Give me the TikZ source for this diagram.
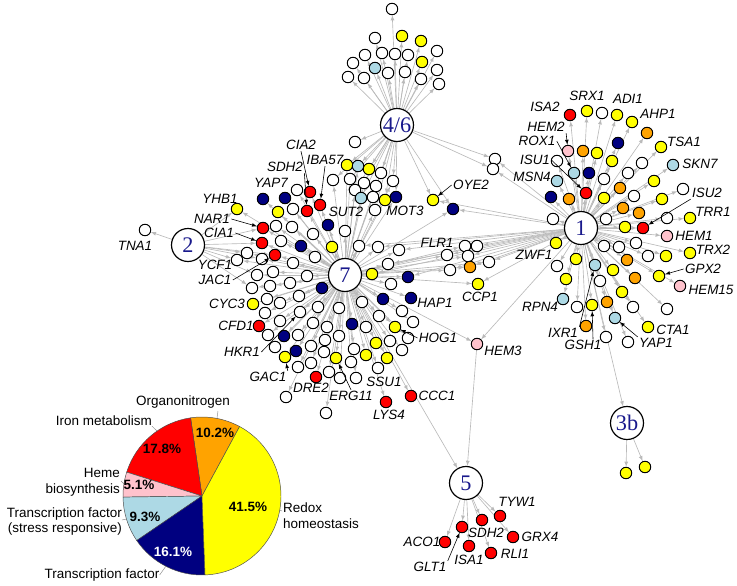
\documentclass[tikz,border=0pt]{standalone}
\usepackage{fontspec}
\setmainfont{Liberation Sans}
\newfontfamily\hubfont{Liberation Serif}
\usetikzlibrary{arrows,calc,backgrounds}
\definecolor{WClr}{rgb}{1,1,1}
\definecolor{YClr}{rgb}{1,1,0}
\definecolor{RClr}{rgb}{1,0,0}
\definecolor{OClr}{rgb}{1,0.64,0}
\definecolor{PClr}{rgb}{1,0.76,0.8}
\definecolor{BClr}{rgb}{0.68,0.85,0.9}
\definecolor{NClr}{rgb}{0,0,0.5}
\definecolor{EdgeClr}{rgb}{0.73,0.73,0.73}
\definecolor{HubClr}{rgb}{0.1,0.1,0.55}

\begin{document}
\begin{tikzpicture}[x=0.03cm,y=-0.03cm,
  gene/.style={circle,draw=black,line width=0.8pt,minimum size=0.345cm,inner sep=0pt},
  hub/.style={circle,draw=black,line width=1pt,minimum size=0.99cm,inner sep=0pt,fill=white,text=HubClr,font=\hubfont\fontsize{19}{19}\selectfont},
  edge/.style={EdgeClr,line width=0.55pt,-latex},
  ptr/.style={black,line width=0.5pt,-latex},
  lbl/.style={inner sep=1pt,font=\fontsize{11.5}{12}\selectfont\itshape},
  pct/.style={inner sep=0pt,font=\fontsize{11.5}{12}\selectfont\bfseries},
  cat/.style={inner sep=0pt,font=\fontsize{11.5}{13.6}\selectfont},
  slice/.style={draw=black!70,line width=0.4pt},
  lead/.style={black!45,line width=0.4pt}]
\useasboundingbox (0,0) rectangle (737,585);

\node[hub] (h46) at (397,125) {4/6};
\node[hub] (h1) at (581,228) {1};
\node[hub] (h2) at (188,245) {2};
\node[hub] (h7) at (345,275) {7};
\node[hub] (h5) at (466,483) {5};
\node[hub] (h3b) at (627,423) {3b};

\node[gene,fill=WClr] (tna) at (145,230) {};
\node[gene,fill=PClr] (hem3) at (477,344) {};

\foreach \i/\x/\y/\clr in {1/392/9/WClr, 2/375/38/WClr, 3/402/36/YClr, 4/421/41/YClr, 5/365/55/WClr,
  6/382/53/WClr, 7/395/54/WClr, 8/408/55/WClr, 9/437/51/WClr, 10/353/63/WClr, 11/375/68/BClr,
  12/422/62/YClr, 13/348/77/WClr, 14/364/78/WClr, 15/388/73/WClr, 16/405/72/WClr, 17/421/79/WClr,
  18/437/70/WClr, 19/439/84/WClr, 20/355/142/WClr}
  \node[gene,fill=\clr] (t\i) at (\x,\y) {};

\foreach \i/\x/\y/\clr in {1/347/165/YClr, 2/358/166/BClr, 3/369/169/YClr, 4/381/173/WClr, 5/333/180/WClr,
  6/350/179/WClr, 7/364/183/WClr, 8/393/181/WClr, 9/355/190/WClr, 10/376/186/WClr, 11/361/198/BClr,
  12/373/197/WClr, 13/385/200/YClr, 14/396/197/NClr, 15/375/210/WClr}
  \node[gene,fill=\clr] (m\i) at (\x,\y) {};

\foreach \i/\x/\y/\clr in {1/237/209/YClr, 2/263/228/RClr, 3/262/243/RClr, 4/275/255/RClr, 5/263/199/NClr,
  6/285/198/NClr, 7/310/192/RClr, 8/307/211/RClr, 9/320/205/RClr, 10/297/190/WClr, 11/278/212/YClr,
  12/293/209/WClr, 13/276/226/WClr, 14/292/227/WClr, 15/313/234/WClr, 16/328/225/NClr, 17/281/241/WClr,
  18/301/246/NClr, 19/332/247/YClr, 20/247/253/WClr, 21/262/259/WClr, 22/237/260/WClr, 23/293/263/WClr,
  24/315/257/WClr, 25/257/275/WClr, 26/273/272/WClr, 27/290/283/WClr, 28/270/286/WClr, 29/322/288/NClr,
  30/307/276/WClr, 31/345/231/WClr, 32/359/246/WClr, 33/378/247/WClr, 34/399/250/WClr, 35/388/264/WClr,
  36/372/274/YClr, 37/408/277/NClr, 38/391/284/WClr, 39/252/288/WClr, 40/253/304/YClr, 41/267/299/WClr,
  42/280/303/WClr, 43/299/296/WClr, 44/318/307/WClr, 45/339/308/WClr, 46/362/302/WClr, 47/383/299/NClr,
  48/411/298/NClr, 49/402/311/WClr, 50/413/322/WClr, 51/259/326/RClr, 52/265/313/WClr, 53/280/321/WClr,
  54/300/312/WClr, 55/313/323/WClr, 56/327/327/WClr, 57/352/324/NClr, 58/366/327/WClr, 59/379/316/WClr,
  60/395/327/YClr, 61/268/335/WClr, 62/284/336/NClr, 63/298/335/WClr, 64/311/346/WClr, 65/325/340/WClr,
  66/339/336/WClr, 67/354/349/WClr, 68/376/343/YClr, 69/390/341/WClr, 70/408/338/WClr, 71/275/347/WClr,
  72/296/351/NClr, 73/285/357/YClr, 74/298/367/WClr, 75/336/358/YClr, 76/351/362/WClr, 77/366/355/YClr,
  78/387/358/YClr, 79/402/350/WClr, 80/324/352/WClr, 81/329/372/WClr, 82/340/378/WClr, 83/356/378/WClr,
  84/378/368/WClr, 85/316/377/RClr, 86/286/397/WClr, 87/326/413/WClr, 88/386/402/RClr, 89/411/396/RClr,
  90/311/363/WClr}
  \node[gene,fill=\clr] (s\i) at (\x,\y) {};

\foreach \i/\x/\y/\clr in {1/570/115/RClr, 2/587/111/YClr, 3/602/113/WClr, 4/617/115/YClr, 5/632/122/YClr,
  6/647/133/OClr, 7/661/147/YClr, 8/673/165/BClr, 9/568/151/PClr, 10/583/151/OClr, 11/597/153/YClr,
  12/618/143/NClr, 13/612/161/YClr, 14/642/163/WClr, 15/628/173/WClr, 16/604/179/WClr, 17/589/173/NClr,
  18/654/181/YClr, 19/557/161/WClr, 20/574/173/BClr, 21/557/181/BClr, 22/620/188/OClr, 23/683/189/WClr,
  24/551/197/NClr, 25/569/199/OClr, 26/586/193/RClr, 27/604/198/YClr, 28/634/196/WClr, 29/662/199/YClr,
  30/623/208/OClr, 31/639/213/OClr, 32/667/218/WClr, 33/690/218/YClr, 34/553/219/WClr, 35/606/219/WClr,
  36/625/227/YClr, 37/643/228/RClr, 38/667/236/PClr, 39/556/243/YClr, 40/604/246/WClr, 41/619/247/WClr,
  42/636/243/WClr, 43/648/256/WClr, 44/666/256/YClr, 45/690/253/YClr, 46/576/259/YClr, 47/627/260/OClr,
  48/595/265/BClr, 49/557/266/WClr, 50/566/279/YClr, 51/600/281/WClr, 52/613/270/YClr, 53/635/278/OClr,
  54/659/276/YClr, 55/680/286/PClr, 56/563/299/BClr, 57/577/307/WClr, 58/592/305/YClr, 59/607/302/OClr,
  60/622/292/YClr, 61/633/307/WClr, 62/667/309/WClr, 63/586/326/OClr, 64/615/318/BClr, 65/648/327/YClr,
  66/606/337/WClr, 67/628/342/WClr}
  \node[gene,fill=\clr] (r\i) at (\x,\y) {};

\foreach \i/\x/\y/\clr in {1/447/255/WClr, 2/465/246/WClr, 3/477/246/WClr, 4/468/256/WClr, 5/470/267/OClr,
  6/489/262/WClr, 7/450/270/WClr, 8/478/284/YClr}
  \node[gene,fill=\clr] (f\i) at (\x,\y) {};

\foreach \i/\x/\y/\clr in {1/433/200/YClr, 2/453/209/NClr, 3/495/159/WClr, 4/493/169/WClr}
  \node[gene,fill=\clr] (p\i) at (\x,\y) {};

\foreach \i/\x/\y in {1/500/516, 2/482/520, 3/462/527, 4/445/542, 5/469/546, 6/491/553, 7/513/537}
  \node[gene,fill=RClr] (e\i) at (\x,\y) {};

\foreach \i/\x/\y in {1/626/473, 2/645/467}
  \node[gene,fill=YClr] (b\i) at (\x,\y) {};

\begin{pgfonlayer}{background}
\foreach \i in {1,...,20} \draw[edge] (h46) -- (t\i);
\foreach \i in {1,...,15} {\draw[edge] (h46) -- (m\i); \draw[edge] (h7) -- (m\i);}
\foreach \i in {1,...,90} \draw[edge] (h7) -- (s\i);
\foreach \i in {1,2,3,4,20,21,22,25,39} \draw[edge] (h2) -- (s\i);
\draw[edge] (h2) -- (tna);
\foreach \i in {1,...,67} \draw[edge] (h1) -- (r\i);
\foreach \i in {1,...,8} {\draw[edge] (h1) -- (f\i); \draw[edge] (h7) -- (f\i);}
\foreach \i in {1,...,4} {\draw[edge] (h46) -- (p\i); \draw[edge] (h1) -- (p\i);}
\draw[edge] (h7) -- (p2);
\foreach \i in {32,...,37} \draw[edge] (h1) -- (s\i);
\foreach \i in {1,...,7} \draw[edge] (h5) -- (e\i);
\foreach \i in {1,2} \draw[edge] (h3b) -- (b\i);
\draw[edge] (h1) -- (hem3);
\draw[edge] (h7) -- (hem3);
\draw[edge] (hem3) -- (h5);
\draw[edge] (h7) -- (h5);
\draw[edge] (h1) -- (h3b);
\end{pgfonlayer}

\node[lbl] (lTNA1) at (135,246) {TNA1};
\node[lbl] (lYHB1) at (220,199) {YHB1};
\node[lbl] (lNAR1) at (212,219) {NAR1};
\node[lbl] (lCIA1) at (219,233) {CIA1};
\node[lbl] (lYCF1) at (215,265) {YCF1};
\node[lbl] (lJAC1) at (215,280) {JAC1};
\node[lbl] (lYAP7) at (271,183) {YAP7};
\node[lbl] (lCIA2) at (301,145) {CIA2};
\node[lbl] (lSDH2) at (285,167) {SDH2};
\node[lbl] (lIBA57) at (325,160) {IBA57};
\node[lbl] (lSUT2) at (346,212) {SUT2};
\node[lbl] (lMOT3) at (405,211) {MOT3};
\node[lbl] (lOYE2) at (471,185) {OYE2};
\node[lbl] (lFLR1) at (437,243) {FLR1};
\node[lbl] (lZWF1) at (534,255) {ZWF1};
\node[lbl] (lCCP1) at (480,297) {CCP1};
\node[lbl] (lHAP1) at (435,303) {HAP1};
\node[lbl] (lHOG1) at (438,338) {HOG1};
\node[lbl] (lCYC3) at (227,304) {CYC3};
\node[lbl] (lCFD1) at (236,326) {CFD1};
\node[lbl] (lHKR1) at (242,352) {HKR1};
\node[lbl] (lGAC1) at (268,377) {GAC1};
\node[lbl] (lDRE2) at (311,388) {DRE2};
\node[lbl] (lERG11) at (351,396) {ERG11};
\node[lbl] (lSSU1) at (384,382) {SSU1};
\node[lbl] (lLYS4) at (389,415) {LYS4};
\node[lbl] (lCCC1) at (437,396) {CCC1};
\node[lbl] (lHEM3) at (503,351) {HEM3};
\node[lbl] (lISA2) at (545,107) {ISA2};
\node[lbl] (lSRX1) at (587,96) {SRX1};
\node[lbl] (lADI1) at (628,99) {ADI1};
\node[lbl] (lAHP1) at (658,114) {AHP1};
\node[lbl] (lTSA1) at (684,142) {TSA1};
\node[lbl] (lSKN7) at (700,164) {SKN7};
\node[lbl] (lHEM2) at (546,127) {HEM2};
\node[lbl] (lROX1) at (537,141) {ROX1};
\node[lbl] (lISU1) at (535,160) {ISU1};
\node[lbl] (lMSN4) at (532,177) {MSN4};
\node[lbl] (lISU2) at (707,193) {ISU2};
\node[lbl] (lTRR1) at (713,212) {TRR1};
\node[lbl] (lHEM1) at (694,236) {HEM1};
\node[lbl] (lTRX2) at (713,250) {TRX2};
\node[lbl] (lGPX2) at (703,269) {GPX2};
\node[lbl] (lHEM15) at (711,290) {HEM15};
\node[lbl] (lRPN4) at (540,307) {RPN4};
\node[lbl] (lIXR1) at (563,333) {IXR1};
\node[lbl] (lGSH1) at (583,345) {GSH1};
\node[lbl] (lYAP1) at (656,343) {YAP1};
\node[lbl] (lCTA1) at (673,330) {CTA1};
\node[lbl] (lTYW1) at (517,502) {TYW1};
\node[lbl] (lSDH2b) at (486,533) {SDH2};
\node[lbl] (lGRX4) at (540,537) {GRX4};
\node[lbl] (lRLI1) at (515,554) {RLI1};
\node[lbl] (lISA1) at (469,560) {ISA1};
\node[lbl] (lACO1) at (422,542) {ACO1};
\node[lbl] (lGLT1) at (430,567) {GLT1};

\draw[ptr] (lNAR1.east) -- (s2);
\draw[ptr] (lCIA1.east) -- (s3);
\draw[ptr] (lJAC1.east) -- (s4);
\draw[ptr] (lCIA2.south) -- (s7);
\draw[ptr] (lSDH2.south east) -- (s8);
\draw[ptr] (lIBA57.south) -- (s9);
\draw[ptr] (lOYE2.west) -- (p1);
\draw[ptr] (lHKR1.east) -- (s54);
\draw[ptr] (lGAC1.north east) -- (s73);
\draw[ptr] (lERG11.north) -- (s75);
\draw[ptr] (lHOG1.west) -- (s60);
\draw[ptr] (lHEM2.south east) -- (r9);
\draw[ptr] (lROX1.east) -- (r20);
\draw[ptr] (lISU1.east) -- (r26);
\draw[ptr] (lISU2.south west) -- (r37);
\draw[ptr] (lGPX2.west) -- (r54);
\draw[ptr] (lIXR1.north east) -- (r48);
\draw[ptr] ($(lGSH1.north)+(10,0)$) -- (r58);
\draw[ptr] (lYAP1.north west) -- (r64);
\draw[ptr] (lGLT1.north east) -- (e3);

\coordinate (pc) at (202,496);
\foreach \a/\b/\clr in {61.6/98.3/OClr, 98.3/162.4/RClr, 162.4/180.8/PClr, 180.8/214.3/BClr,
  214.3/272.2/NClr, 272.2/421.6/YClr}
  \filldraw[slice,fill=\clr] (pc) -- ++(\a:2.37cm) arc[start angle=\a,end angle=\b,radius=2.37cm] -- cycle;

\node[pct] (v415) at (248,507) {41.5\%};
\node[pct,text=white] (v161) at (173,552) {16.1\%};
\node[pct] (v93) at (145,517) {9.3\%};
\node[pct] (v51) at (139,485) {5.1\%};
\node[pct] (v178) at (162,449) {17.8\%};
\node[pct] (v102) at (215,433) {10.2\%};

\node[cat] (cOrg) at (183,402) {Organonitrogen};
\node[cat,anchor=east] (cIron) at (152,421) {Iron metabolism};
\node[cat,anchor=east,align=right] (cHeme) at (120,482) {Heme\\biosynthesis};
\node[cat,anchor=east,align=right] (cTFs) at (122,521.5) {Transcription factor\\(stress responsive)};
\node[cat] (cTF) at (102,575) {Transcription factor};
\node[cat,anchor=west,align=left] (cRedox) at (283,516) {Redox\\homeostasis};

\draw[lead] (218,411) -- (217,418);
\draw[lead] (cIron.south east) -- (157,431);
\draw[lead] (121,481) -- (124,484);
\draw[lead] (122,520) -- (126.5,519);
\draw[lead] (cTF.east) -- (166,566);
\draw[lead] (282,511) -- (279.5,510);
\end{tikzpicture}
\end{document}
